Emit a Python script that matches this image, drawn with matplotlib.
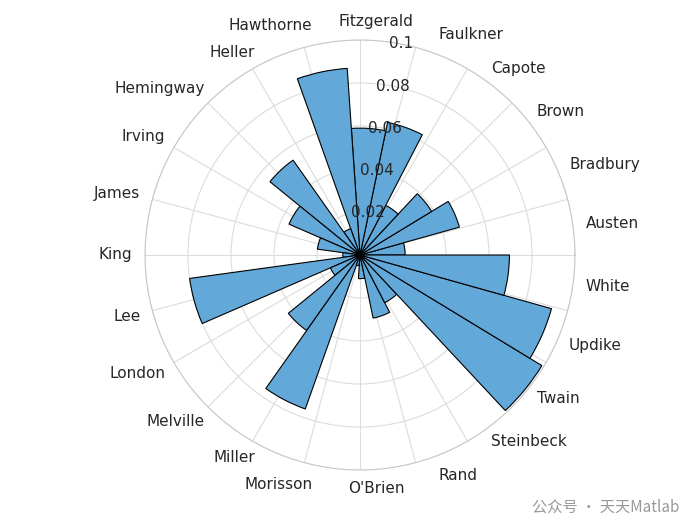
import numpy as np
import matplotlib.pyplot as plt

authors = ['Austen', 'Bradbury', 'Brown', 'Capote', 'Faulkner', 'Fitzgerald',
           'Hawthorne', 'Heller', 'Hemingway', 'Irving', 'James', 'King', 'Lee',
           'London', 'Melville', 'Miller', 'Morisson', "O'Brien", 'Rand',
           'Steinbeck', 'Twain', 'Updike', 'White']
probs = [0.021, 0.048, 0.039, 0.026, 0.063, 0.059, 0.087, 0.013, 0.054, 0.036,
         0.020, 0.008, 0.080, 0.015, 0.043, 0.076, 0.005, 0.011, 0.030, 0.025,
         0.099, 0.0925, 0.0695]
r_ticks = [0.02, 0.04, 0.06, 0.08, 0.1]
r_tick_labels = ['0.02', '0.04', '0.06', '0.08', '0.1']

n = len(authors)
width = 2 * np.pi / n
theta = (np.arange(n) + 0.5) * width

fig = plt.figure(figsize=(7, 5.25), dpi=100)
ax = fig.add_axes([(360 - 215) / 700, (525 - 255 - 215) / 525, 430 / 700, 430 / 525],
                  projection='polar')
ax.bar(theta, probs, width=width, bottom=0, color='#62a8d8', edgecolor='black',
       linewidth=0.8, zorder=3)

ax.set_ylim(0, 0.1)
ax.set_yticks(r_ticks)
ax.set_yticklabels([])
ax.set_xticks(np.radians(np.arange(0, 360, 15)))
ax.set_xticklabels([])
ax.grid(True, color='#dcdcdc', linewidth=0.8)
ax.spines['polar'].set_color('#c8c8c8')
ax.set_axisbelow(True)

# radial labels drawn on top of the bars
for r, s in zip(r_ticks, r_tick_labels):
    ax.text(np.radians(79), r, s, ha='center', va='center', fontsize=11,
            color='#262626', zorder=6)

for t, a in zip(theta, authors):
    ha = 'left' if np.cos(t) > 0.15 else ('right' if np.cos(t) < -0.15 else 'center')
    r = 0.109 if abs(np.sin(t)) > 0.9 else 0.106
    ax.text(t, r, a, ha=ha, va='center', fontsize=11, color='#262626')

# watermark
fig.text(0.97, 0.035, '公众号 · 天天Matlab', ha='right', va='center', fontsize=11,
         color='#9a9a9a', family=['Noto Sans CJK SC', 'DejaVu Sans'])

plt.savefig('out.png')
